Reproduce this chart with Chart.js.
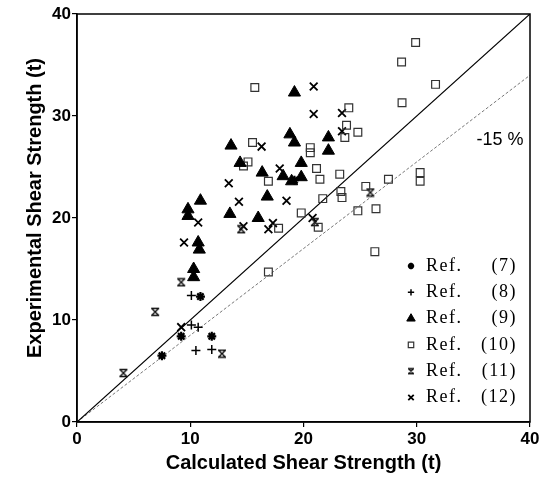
<!DOCTYPE html>
<html>
<head>
<meta charset="utf-8">
<script src="https://cdn.jsdelivr.net/npm/chart.js@4.4.0/dist/chart.umd.min.js"></script>
<style>
  body { margin: 0; background: #fff; }
  canvas { display: block; }
</style>
</head>
<body>
<canvas id="chart" width="542" height="480"></canvas>
<script>
// datos [calculado, experimental] (t)
const ref7 = [[7.5, 6.5], [9.2, 8.4], [10.9, 12.3], [11.9, 8.4], [19.2, 23.7]];
const ref8 = [[10.1, 12.4], [10.1, 9.5], [10.7, 9.3], [10.5, 7.0], [11.9, 7.1]];
const ref9 = [[9.8, 20.85], [9.8, 20.2], [10.9, 21.7], [10.7, 17.6], [10.8, 16.9], [10.3, 15.0],
  [10.3, 14.2], [13.5, 20.4], [13.6, 27.1], [14.4, 25.4], [16.0, 20.0], [16.35, 24.45],
  [16.8, 22.1], [18.2, 24.1], [18.8, 28.2], [19.2, 27.4], [19.2, 32.3], [18.95, 23.6],
  [19.8, 25.4], [19.8, 24.0], [22.2, 27.9], [22.2, 26.6]];
const ref10 = [[15.7, 32.8], [15.5, 27.4], [15.1, 25.5], [14.7, 25.1], [16.9, 23.6], [16.9, 14.7],
  [17.8, 19.0], [19.8, 20.5], [20.6, 26.9], [20.6, 26.4], [21.15, 24.85], [21.45, 23.8],
  [21.7, 21.9], [21.3, 19.1], [23.2, 24.3], [23.3, 22.6], [23.4, 22.0], [24.0, 30.8],
  [23.8, 29.1], [24.8, 28.4], [23.65, 27.9], [24.8, 20.7], [25.5, 23.1], [26.4, 20.9],
  [26.3, 16.7], [27.5, 23.8], [28.7, 31.3], [28.66, 35.3], [29.9, 37.2], [31.66, 33.1],
  [30.3, 24.45], [30.3, 23.6]];
const ref11 = [[4.1, 4.8], [6.9, 10.8], [9.2, 13.7], [12.8, 6.7], [14.5, 18.9], [21.0, 19.6], [25.9, 22.5]];
const ref12 = [[9.2, 9.3], [9.45, 17.6], [10.7, 19.55], [13.4, 23.4], [14.3, 21.6], [14.7, 19.2],
  [16.3, 27.0], [16.9, 18.9], [17.3, 19.5], [17.9, 24.85], [18.5, 21.7], [20.9, 30.2],
  [20.9, 32.9], [23.4, 30.3], [23.4, 28.5], [20.8, 20.0]];

const lineX = [0, 40];
const perfectY = [0, 40];
const minus15Y = [0, 34];

const legendLabels = ['(7)', '(8)', '(9)', '(10)', '(11)', '(12)'];
const xTicks = [0, 10, 20, 30, 40];
const yTicks = [0, 10, 20, 30, 40];

function pts(arr) { return arr.map(p => ({ x: p[0], y: p[1] })); }
function linePts(xs, ys) { return xs.map((v, i) => ({ x: v, y: ys[i] })); }

// marcador de Ref. (11): una x con barras arriba y abajo
function hourglass(size) {
  const c = document.createElement('canvas');
  c.width = size; c.height = size;
  const g = c.getContext('2d');
  g.strokeStyle = '#111';
  g.lineWidth = 1.4;
  const a = 1, b = size - 1;
  g.beginPath();
  g.moveTo(a, a + 0.5); g.lineTo(b, a + 0.5);
  g.moveTo(a, b - 0.5); g.lineTo(b, b - 0.5);
  g.moveTo(a + 0.5, a + 0.5); g.lineTo(b - 0.5, b - 0.5);
  g.moveTo(b - 0.5, a + 0.5); g.lineTo(a + 0.5, b - 0.5);
  g.stroke();
  return c;
}
const hg = hourglass(10);
const hgSmall = hourglass(8);

const frameAndText = {
  id: 'frameAndText',
  afterDraw(chart) {
    const { ctx, chartArea: a } = chart;
    ctx.save();
    ctx.strokeStyle = '#000';
    ctx.lineWidth = 1.5;
    ctx.strokeRect(a.left, a.top, a.right - a.left, a.bottom - a.top);

    // titulo eje y
    ctx.fillStyle = '#000';
    ctx.font = 'bold 20px "Liberation Sans", Arial, sans-serif';
    ctx.textAlign = 'center';
    ctx.textBaseline = 'middle';
    ctx.translate(35, 208);
    ctx.rotate(-Math.PI / 2);
    ctx.fillText('Experimental Shear Strength (t)', 0, 0);
    ctx.restore();

    ctx.save();
    ctx.fillStyle = '#000';
    ctx.font = '18px "Liberation Sans", Arial, sans-serif';
    ctx.textAlign = 'center';
    ctx.textBaseline = 'middle';
    ctx.fillText('-15 %', 500, 140);

    // leyenda
    ctx.font = '18px "Liberation Serif", serif';
    ctx.letterSpacing = '1.5px';
    ctx.textBaseline = 'middle';
    legendLabels.forEach((lab, i) => {
      const ds = chart.data.datasets[i];
      const y = 266 + i * 26.3;
      ctx.fillStyle = ds.backgroundColor || '#000';
      ctx.strokeStyle = ds.borderColor || '#000';
      ctx.lineWidth = ds.borderWidth || 1;
      Chart.helpers.drawPoint(ctx, {
        pointStyle: i === 4 ? hgSmall : ds.pointStyle,
        radius: ds.pointRadius * 0.7,
        rotation: 0,
        borderWidth: ds.borderWidth
      }, 411, y);
      ctx.fillStyle = '#000';
      ctx.textAlign = 'left';
      ctx.fillText('Ref.', 426, y);
      ctx.textAlign = 'right';
      ctx.fillText(lab, 517, y);
    });
    ctx.restore();
  }
};

const tickFont = { family: '"Liberation Sans", Arial, sans-serif', size: 17, weight: 'bold' };

new Chart(document.getElementById('chart'), {
  type: 'scatter',
  data: {
    datasets: [
      { label: 'Ref. (7)', data: pts(ref7), pointStyle: 'star', pointRadius: 4.5, borderWidth: 2.2,
        borderColor: '#000', backgroundColor: '#000' },
      { label: 'Ref. (8)', data: pts(ref8), pointStyle: 'cross', pointRadius: 4.5, borderWidth: 1.5,
        borderColor: '#000', backgroundColor: '#000' },
      { label: 'Ref. (9)', data: pts(ref9), pointStyle: 'triangle', pointRadius: 7, borderWidth: 1,
        borderColor: '#000', backgroundColor: '#000' },
      { label: 'Ref. (10)', data: pts(ref10), pointStyle: 'rect', pointRadius: 5.5, borderWidth: 1.2,
        borderColor: '#333', backgroundColor: 'rgba(255,255,255,0)' },
      { label: 'Ref. (11)', data: pts(ref11), pointStyle: hg, pointRadius: 5, borderWidth: 1.4,
        borderColor: '#000', backgroundColor: '#000' },
      { label: 'Ref. (12)', data: pts(ref12), pointStyle: 'crossRot', pointRadius: 5.5, borderWidth: 1.8,
        borderColor: '#000', backgroundColor: '#000' },
      { type: 'line', label: 'perfect', data: linePts(lineX, perfectY), borderColor: '#000',
        borderWidth: 1.2, pointRadius: 0, fill: false, order: 10 },
      { type: 'line', label: '-15', data: linePts(lineX, minus15Y), borderColor: '#777',
        borderWidth: 1, borderDash: [3, 2], pointRadius: 0, fill: false, order: 10 }
    ]
  },
  options: {
    responsive: false,
    animation: false,
    events: [],
    layout: { padding: { top: 14, right: 12, left: 0, bottom: 0 } },
    plugins: { legend: { display: false }, tooltip: { enabled: false } },
    elements: { point: { hoverRadius: 0 } },
    scales: {
      x: {
        type: 'linear', min: 0, max: 40,
        afterFit(s) { s.height = 58; },
        afterBuildTicks(s) { s.ticks = xTicks.map(v => ({ value: v })); },
        ticks: { font: tickFont, color: '#000', padding: 2, maxRotation: 0 },
        grid: { drawOnChartArea: false, tickLength: 5, color: '#000', lineWidth: 1.2 },
        border: { color: '#000', width: 1.5 },
        title: { display: true, text: 'Calculated Shear Strength (t)', color: '#000',
          font: { family: '"Liberation Sans", Arial, sans-serif', size: 20, weight: 'bold' },
          padding: { top: 0, bottom: 5 } }
      },
      y: {
        type: 'linear', min: 0, max: 40,
        afterFit(s) { s.width = 77; },
        afterBuildTicks(s) { s.ticks = yTicks.map(v => ({ value: v })); },
        ticks: { font: tickFont, color: '#000', padding: 1 },
        grid: { drawOnChartArea: false, tickLength: 5, color: '#000', lineWidth: 1.2 },
        border: { color: '#000', width: 1.5 }
      }
    }
  },
  plugins: [frameAndText]
});
</script>
</body>
</html>
